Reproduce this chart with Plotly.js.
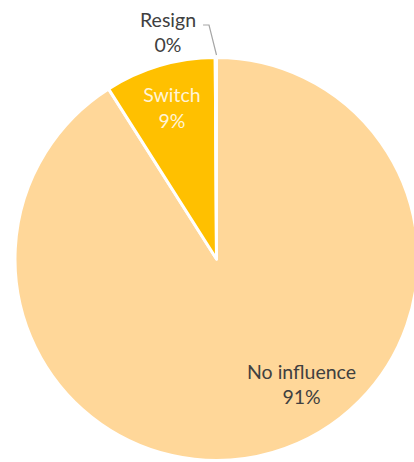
<!DOCTYPE html>
<html>
<head>
<meta charset="utf-8">
<script src="https://cdn.plot.ly/plotly-3.0.1.min.js"></script>
<style>
html,body{margin:0;padding:0;overflow:hidden;background:#fff;width:414px;height:462px;}
#chart{width:420px;height:462px;}
</style>
</head>
<body>
<div id="chart"></div>
<script>
const labels = ["No influence", "Switch", "Resign"];
const values = [91.0, 8.9, 0.1];
const colors = ["#FFD799", "#FFC000", "#FFD799"];
const textColors = ["#404040", "#FFF4D6", "#404040"];
const textPositions = ["none", "inside", "none"];

const FONT = "Lato, 'Open Sans', sans-serif";
const FS = 19.5;

// plot-area geometry (pixels) used only to place the callout labels
const L = 14.5, T = 57, W = 404, H = 404;
const px = x => (x - L) / W;
const py = y => (T + H - y) / H;

const total = values.reduce((a, b) => a + b, 0);
const pct = v => Math.round(v / total * 100) + "%";

const trace = {
  type: "pie",
  labels: labels,
  values: values,
  sort: false,
  direction: "clockwise",
  rotation: 0,
  marker: {colors: colors, line: {color: "#ffffff", width: 3}},
  texttemplate: "%{label}<br>%{percent:.0%}",
  textposition: textPositions,
  insidetextorientation: "horizontal",
  textfont: {family: FONT, size: FS, color: textColors},
  insidetextfont: {family: FONT, size: FS, color: textColors},
  hoverinfo: "none",
  showlegend: false,
  automargin: false
};

const layout = {
  width: 420,
  height: 462,
  margin: {l: L, r: 420 - L - W, t: T, b: 462 - T - H, pad: 0},
  paper_bgcolor: "#ffffff",
  plot_bgcolor: "#ffffff",
  showlegend: false,
  annotations: [
    {xref: "paper", yref: "paper", x: px(302), y: py(384), xanchor: "center", yanchor: "middle",
     text: labels[0] + "<br>" + pct(values[0]), showarrow: false,
     font: {family: FONT, size: FS, color: textColors[0]}},
    {xref: "paper", yref: "paper", x: px(168), y: py(31.5), xanchor: "center", yanchor: "middle",
     text: labels[2] + "<br>" + pct(values[2]), showarrow: false,
     font: {family: FONT, size: FS, color: textColors[2]}}
  ],
  shapes: [
    {type: "path", xref: "paper", yref: "paper",
     path: "M " + px(203) + "," + py(25) + " L " + px(209) + "," + py(25) + " L " + px(216.5) + "," + py(55),
     line: {color: "#A6A6A6", width: 1.2}}
  ]
};

Plotly.newPlot("chart", [trace], layout, {displayModeBar: false, staticPlot: true});
</script>
</body>
</html>
